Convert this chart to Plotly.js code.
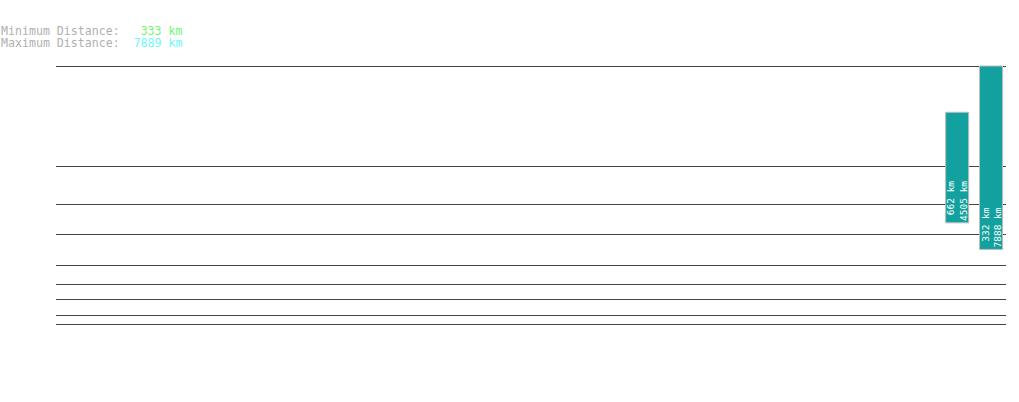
<!DOCTYPE html>
<html>
<head>
<meta charset="utf-8">
<script src="https://cdn.plot.ly/plotly-3.0.1.min.js"></script>
<style>
  html, body { margin: 0; padding: 0; background: #fff; }
  #chart { width: 1019px; height: 402px; }
</style>
</head>
<body>
<div id="chart"></div>
<script>
// distances in km
const minDistance = 333;
const maxDistance = 7889;

// bar slots (28 slots, only the last two are filled)
const slotCount = 28;
const barSlots = [26, 27];
const barLow = [662, 332];
const barHigh = [4505, 7888];

// horizontal guide lines (km)
const gridKm = [10, 20, 50, 100, 200, 500, 1000, 2000, maxDistance];

// power scale, exponent 0.3
const EXP = 0.3;
function pw(v) { return Math.pow(v, EXP); }

const mono = 'DejaVu Sans Mono, Liberation Mono, monospace';

// a few px of headroom so plotly keeps the top guide line
const padPx = 3;
const innerH = 299;
const plotH = innerH + padPx;
const topPad = pw(maxDistance) / innerH * padPx;

const trace = {
  type: 'bar',
  x: barSlots,
  base: barLow.map(pw),
  y: barLow.map((lo, i) => pw(barHigh[i]) - pw(lo)),
  width: 0.68,
  marker: { color: '#12a19e', line: { color: '#bdbdbd', width: 1 } },
  hoverinfo: 'skip'
};

const annotations = barSlots.map((s, i) => ({
  x: s,
  y: pw(barLow[i]),
  xref: 'x', yref: 'y',
  text: barLow[i] + ' km<br>' + barHigh[i] + ' km',
  textangle: -90,
  align: 'right',
  xanchor: 'center',
  yanchor: 'bottom',
  yshift: 1,
  borderpad: 0,
  showarrow: false,
  font: { family: mono, size: 9.5, color: '#ffffff' }
}));

const nb = '\u00a0';
annotations.push({
  xref: 'paper', yref: 'paper',
  x: -56 / 950, y: (365 - 31) / plotH,
  xanchor: 'left', yanchor: 'middle',
  showarrow: false, borderpad: 0,
  text: '<span style="color:#b0b0b0">Minimum Distance:</span>' + nb.repeat(3) +
        '<span style="color:#70f870">' + minDistance + ' km</span>',
  font: { family: mono, size: 11.6, color: '#b0b0b0' }
});
annotations.push({
  xref: 'paper', yref: 'paper',
  x: -56 / 950, y: (365 - 43) / plotH,
  xanchor: 'left', yanchor: 'middle',
  showarrow: false, borderpad: 0,
  text: '<span style="color:#b0b0b0">Maximum Distance:</span>' + nb.repeat(2) +
        '<span style="color:#70f8f8">' + maxDistance + ' km</span>',
  font: { family: mono, size: 11.6, color: '#b0b0b0' }
});

const layout = {
  width: 1019,
  height: 402,
  margin: { l: 56, r: 13, t: 66 - padPx, b: 37 },
  paper_bgcolor: '#ffffff',
  plot_bgcolor: '#ffffff',
  showlegend: false,
  bargap: 0,
  xaxis: {
    range: [-0.56, slotCount - 0.56],
    showgrid: false, zeroline: false, showticklabels: false,
    ticks: '', showline: false, fixedrange: true
  },
  yaxis: {
    range: [0, pw(maxDistance) + topPad],
    tickmode: 'array',
    tickvals: gridKm.map(pw),
    showticklabels: false,
    ticks: '',
    showgrid: true,
    gridcolor: '#444444',
    gridwidth: 1,
    zeroline: false,
    showline: false,
    fixedrange: true
  },
  annotations: annotations
};

Plotly.newPlot('chart', [trace], layout, { displayModeBar: false, staticPlot: true });
</script>
</body>
</html>
